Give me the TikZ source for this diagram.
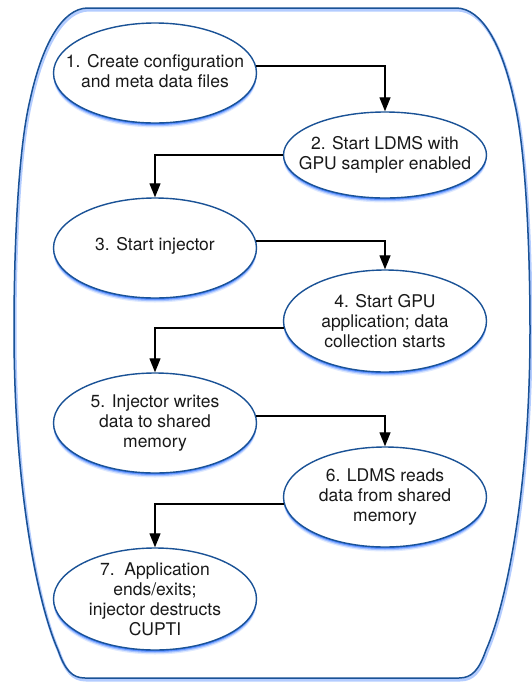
\documentclass[tikz,border=0pt]{standalone}
\usepackage{fontspec}
\setmainfont{TeX Gyre Heros}
\usetikzlibrary{shapes.geometric,arrows.meta,shadows}
\definecolor{edgeblue}{RGB}{26,82,150}
\definecolor{glowblue}{RGB}{40,110,255}
\tikzset{
  x=1pt, y=-1pt,
  stepnode/.style={ellipse, draw=edgeblue, line width=1.4pt, fill=white,
    minimum width=203pt, inner sep=0pt,
    general shadow={shadow yshift=-4.5pt, fill=glowblue, opacity=0.15},
    general shadow={shadow yshift=-3.2pt, fill=glowblue, opacity=0.3},
    general shadow={shadow yshift=-2pt, fill=glowblue, opacity=0.5},
    general shadow={shadow yshift=-1pt, fill=glowblue, opacity=0.7}},
  steptext/.style={align=center, inner sep=0pt, text=black!90,
    font=\fontsize{17.5}{20}\selectfont},
  arr/.style={draw=black, line width=1.3pt, -{Triangle[length=14pt,width=11pt]}},
  outerglow/.style={draw=glowblue, line width=3pt, opacity=0.35},
  outerline/.style={draw=edgeblue, line width=1.5pt}
}
\begin{document}
\begin{tikzpicture}
\useasboundingbox (0,0) rectangle (531,683);
\fill[white] (0,0) rectangle (531,683);
\def\outerpath{(88,8) -- (456,8) .. controls (482,8) and (502,45) .. (514,100)
  .. controls (526,150) and (530,250) .. (530,330)
  .. controls (530,490) and (506,605) .. (486,650)
  .. controls (479,670) and (472,678) .. (459,678) -- (85,678)
  .. controls (72,678) and (65,670) .. (58,650)
  .. controls (38,605) and (14,490) .. (14,330)
  .. controls (14,250) and (18,150) .. (30,100)
  .. controls (42,45) and (62,8) .. (88,8) -- cycle}
\begin{scope}[transform canvas={shift={(1pt,-2pt)}}]
\draw[outerglow] \outerpath;
\end{scope}
\draw[outerline] \outerpath;

\node[stepnode, minimum height=100pt] (n1) at (155,73) {};
\node[stepnode, minimum height=86pt] (n2) at (385,155) {};
\node[stepnode, minimum height=100pt] (n3) at (155,248) {};
\node[stepnode, minimum height=102pt] (n4) at (385,321) {};
\node[stepnode, minimum height=100pt] (n5) at (155,423) {};
\node[stepnode, minimum height=100pt] (n6) at (385,497) {};
\node[stepnode, minimum height=102pt] (n7) at (155,599) {};

\node[steptext] (t1) at ([yshift=2pt]n1.center) {1. Create configuration\\and meta data files};
\node[steptext] (t2) at (n2.center) {2. Start LDMS with\\GPU sampler enabled};
\node[steptext] (t3) at ([yshift=2pt]n3.center) {3. Start injector};
\node[steptext] (t4) at (n4.center) {4. Start GPU\\application; data\\collection starts};
\node[steptext] (t5) at (n5.center) {5. Injector writes\\data to shared\\memory};
\node[steptext] (t6) at (n6.center) {6. LDMS reads\\data from shared\\memory};
\node[steptext] (t7) at (n7.center) {7.\ \ Application\\ends/exits;\\injector destructs\\CUPTI};

\draw[arr] (n1.4) -| (n2.north);
\draw[arr] (n2.180) -| (n3.north);
\draw[arr] (n3.4) -| (n4.north);
\draw[arr] (n4.184) -| (n5.north);
\draw[arr] (n5.4) -| (n6.north);
\draw[arr] (n6.184) -| (n7.north);
\end{tikzpicture}
\end{document}
